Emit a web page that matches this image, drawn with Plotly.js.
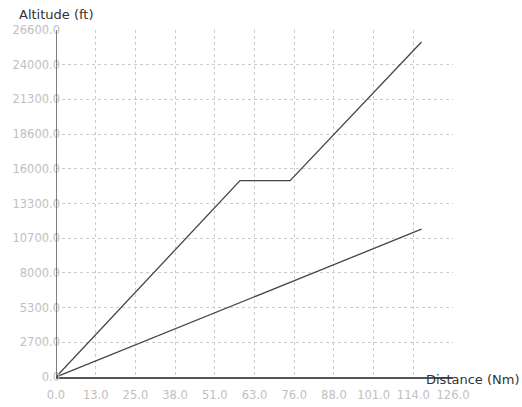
<!DOCTYPE html>
<html>
<head>
<meta charset="utf-8">
<script src="https://cdn.plot.ly/plotly-3.0.1.min.js"></script>
<style>html,body{margin:0;padding:0;background:#fff;}#chart{width:522px;height:407px;}</style>
</head>
<body>
<div id="chart"></div>
<script>
// Data
const climbDistance = [0, 58.4, 74.3, 116.0];
const climbAltitude = [0, 15050, 15050, 25680];
const slopeDistance = [0, 116.0];
const slopeAltitude = [0, 11330];

const xTickVals = [0, 12.6, 25.2, 37.8, 50.4, 63.0, 75.6, 88.2, 100.8, 113.4, 126.0];
const xTickText = ["0.0", "13.0", "25.0", "38.0", "51.0", "63.0", "76.0", "88.0", "101.0", "114.0", "126.0"];
const yTickVals = [0, 2660, 5320, 7980, 10640, 13300, 15960, 18620, 21280, 23940, 26600];
const yTickText = ["0.0", "2700.0", "5300.0", "8000.0", "10700.0", "13300.0", "16000.0", "18600.0", "21300.0", "24000.0", "26600.0"];

const lineStyle = {color: '#444444', width: 1.3};
const traces = [
  {x: climbDistance, y: climbAltitude, type: 'scatter', mode: 'lines', line: lineStyle, hoverinfo: 'skip'},
  {x: slopeDistance, y: slopeAltitude, type: 'scatter', mode: 'lines', line: lineStyle, hoverinfo: 'skip'}
];

const tickFont = {family: 'DejaVu Sans', size: 11.5, color: '#c0c0c0'};
const titleFont = {family: 'DejaVu Sans', size: 13, color: '#333333'};
const layout = {
  width: 522, height: 407,
  margin: {l: 56, r: 69, t: 30, b: 30},
  paper_bgcolor: '#ffffff', plot_bgcolor: '#ffffff',
  showlegend: false,
  xaxis: {
    range: [0, 126], tickvals: xTickVals, ticktext: xTickText,
    showgrid: true, gridcolor: '#cccccc', griddash: '3px,3px', gridwidth: 1,
    zeroline: false, showline: true, linecolor: '#555555', linewidth: 1.5,
    ticks: '', ticklabelstandoff: 7, tickfont: tickFont, fixedrange: true
  },
  yaxis: {
    range: [0, 26600], tickvals: yTickVals, ticktext: yTickText,
    anchor: 'free', position: 0.0101,
    showgrid: true, gridcolor: '#cccccc', griddash: '3px,3px', gridwidth: 1,
    zeroline: false, showline: false,
    ticks: '', ticklabelstandoff: 0, tickfont: tickFont, fixedrange: true
  },
  shapes: [
    {type: 'line', xref: 'x', yref: 'paper', x0: 0, x1: 0, y0: 0, y1: 1,
     line: {color: '#555555', width: 1.5}}
  ],
  annotations: [
    {text: 'Altitude (ft)', xref: 'paper', yref: 'paper', x: 0, y: 1, xshift: -39, yshift: 16,
     xanchor: 'left', yanchor: 'middle', showarrow: false, font: titleFont},
    {text: 'Distance (Nm)', xref: 'paper', yref: 'paper', x: 1, y: 0, xshift: -29, yshift: -2,
     xanchor: 'left', yanchor: 'middle', showarrow: false, font: titleFont}
  ]
};
Plotly.newPlot('chart', traces, layout, {displayModeBar: false, staticPlot: true});
</script>
</body>
</html>
